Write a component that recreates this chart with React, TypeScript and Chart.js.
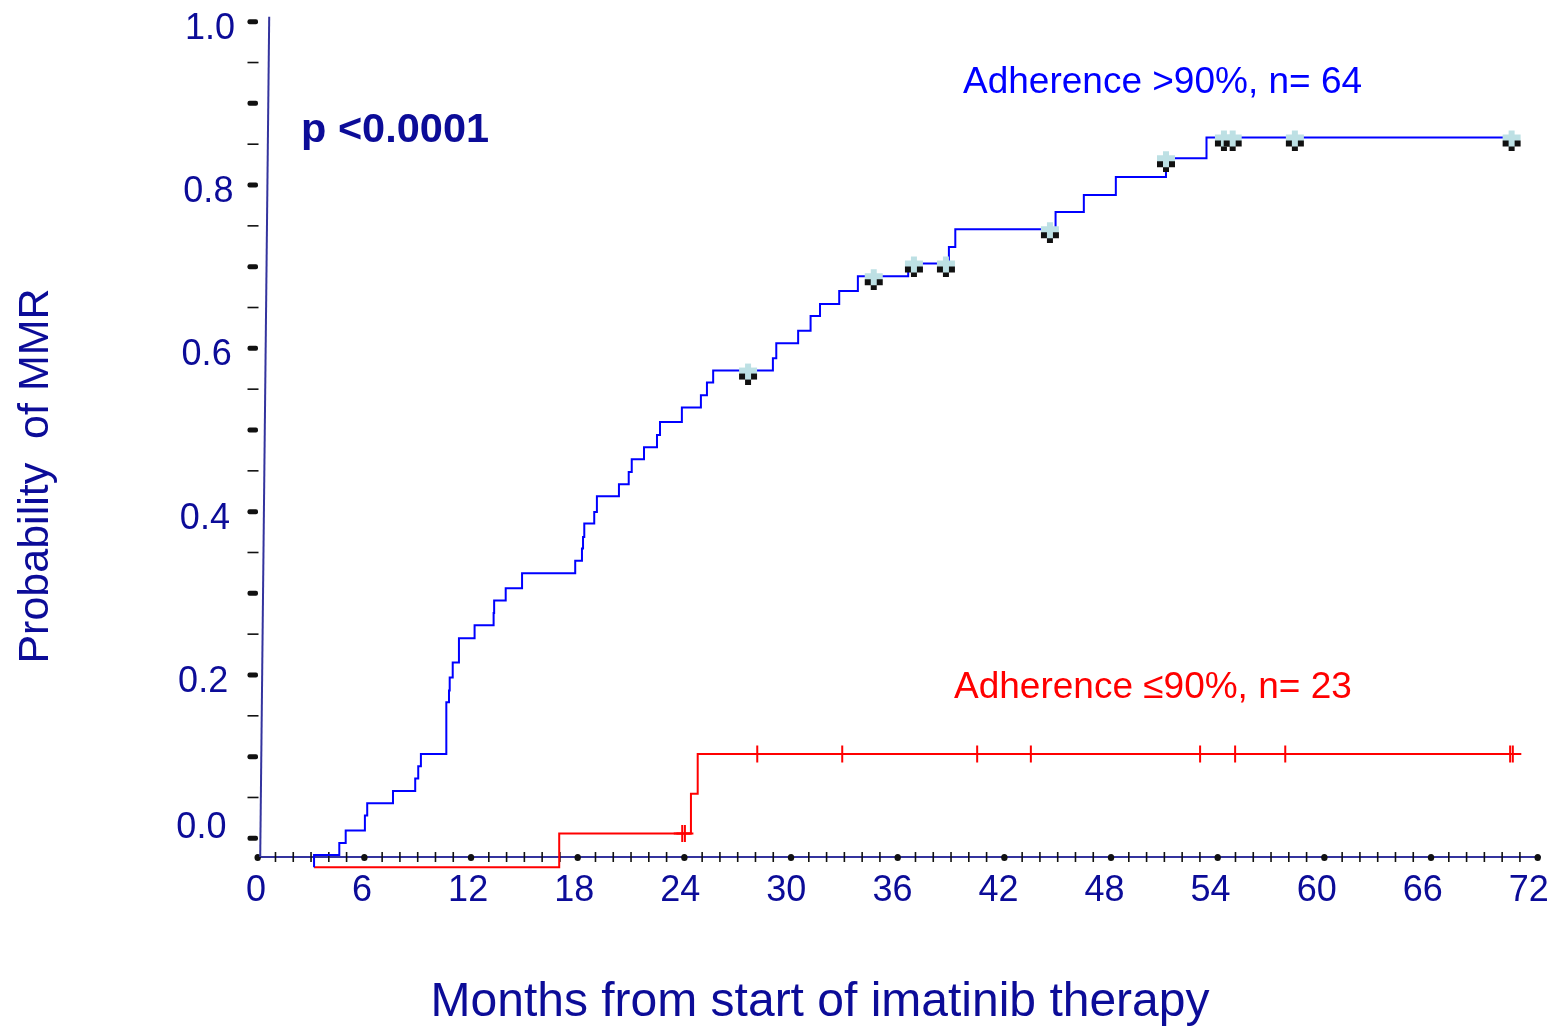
import React, { useEffect, useRef } from "react";
import { Chart, registerables } from "chart.js";

Chart.register(...registerables);

// ---------- data ----------
const xTickValues = [0, 6, 12, 18, 24, 30, 36, 42, 48, 54, 60, 66, 72];
const yTickValues = [0, 0.2, 0.4, 0.6, 0.8, 1.0];
const yTickLabels = ["0.0", "0.2", "0.4", "0.6", "0.8", "1.0"];

// Adherence >90% (blue) – Kaplan-Meier steps: time (months), probability after event
const blueTimes = [
  3.17, 3.17, 4.59, 4.95, 6.03, 6.16, 7.61, 8.86, 9.03, 9.18, 10.61, 10.76, 10.8, 10.97,
  11.32, 12.2, 13.27, 13.3, 13.95, 14.87, 17.86, 18.24, 18.3, 18.37, 18.93, 19.08, 20.32,
  20.87, 21.04, 21.73, 22.46, 22.63, 23.86, 24.93, 25.27, 25.62, 28.98, 29.17, 30.4, 31.1,
  31.63, 32.71, 33.76, 36.59, 38.88, 39.24, 44.88, 46.47, 48.27, 51.09, 53.37, 70.53,
];
const blueValues = [
  -0.0355, -0.0205, -0.0058, 0.0094, 0.0278, 0.0429, 0.0579, 0.0731, 0.0882, 0.1032, 0.1666,
  0.181, 0.197, 0.2152, 0.245, 0.2609, 0.276, 0.2911, 0.3062, 0.3246, 0.3399, 0.3548, 0.369,
  0.3854, 0.3996, 0.4189, 0.4336, 0.4486, 0.4642, 0.4789, 0.4939, 0.5099, 0.5275, 0.5426,
  0.5581, 0.5728, 0.5879, 0.6062, 0.6215, 0.6397, 0.6544, 0.6703, 0.6883, 0.7039, 0.7242,
  0.7459, 0.767, 0.7879, 0.8099, 0.8328, 0.8582, 0.8582,
];
const blueCensorTimes = [27.58, 34.65, 36.91, 38.71, 44.56, 51.09, 54.35, 54.84, 58.34, 70.53];
const blueCensorValues = [0.5728, 0.6883, 0.7039, 0.7039, 0.7459, 0.8328, 0.8582, 0.8582, 0.8582, 0.8582];

// Adherence <=90% (red)
const redTimes = [3.17, 16.96, 24.37, 24.75, 70.53];
const redValues = [-0.0355, 0.0058, 0.0547, 0.1032, 0.1032];
const redCensorTimes = [23.88, 24.03, 28.1, 32.88, 40.47, 43.49, 53.01, 54.98, 57.8, 70.45, 70.6];
const redCensorValues = [0.0058, 0.0058, 0.1032, 0.1032, 0.1032, 0.1032, 0.1032, 0.1032, 0.1032, 0.1032, 0.1032];

const blueLabel = "Adherence >90%, n= 64";
const redLabel = "Adherence \u226490%, n= 23";
const pValueText = "p <0.0001";
const yTitle = "Probability  of MMR";
const xTitle = "Months from start of imatinib therapy";

// ---------- styles ----------
const NAVY = "#0c0c98";
const AXIS = "#34349e";
const FONT = "'Liberation Sans', Arial, Helvetica, sans-serif";

function makeCensorMark(): HTMLCanvasElement {
  const c = document.createElement("canvas");
  c.width = 20;
  c.height = 28;
  const g = c.getContext("2d")!;
  const cx = 10;
  const cy = 14;
  g.fillStyle = "#111";
  g.fillRect(cx - 9, cy + 3, 6, 6);
  g.fillRect(cx + 3, cy + 3, 6, 6);
  g.fillRect(cx - 3, cy + 9, 6, 5);
  g.fillStyle = "#bde0e4";
  g.fillRect(cx - 3, cy - 7, 6, 16);
  g.fillRect(cx - 9, cy - 3, 18, 6);
  return c;
}

const decorPlugin = {
  id: "decor",
  beforeDatasetsDraw(chart: any) {
    const { ctx, scales, chartArea } = chart;
    const x = scales.x;
    const y = scales.y;
    const axisY = chartArea.bottom;
    ctx.save();
    // x axis line
    ctx.strokeStyle = AXIS;
    ctx.lineWidth = 2;
    ctx.beginPath();
    ctx.moveTo(x.getPixelForValue(0) - 1, axisY);
    ctx.lineTo(x.getPixelForValue(72) + 3, axisY);
    ctx.stroke();
    // x minor ticks (monthly) and 6-month dots
    ctx.strokeStyle = "#111";
    ctx.lineWidth = 1.6;
    for (let m = 1; m < 72; m++) {
      if (m % 6 === 0) continue;
      const px = x.getPixelForValue(m);
      ctx.beginPath();
      ctx.moveTo(px, axisY - 5);
      ctx.lineTo(px, axisY + 5);
      ctx.stroke();
    }
    ctx.fillStyle = "#111";
    for (const t of xTickValues) {
      const px = x.getPixelForValue(t);
      ctx.beginPath();
      ctx.ellipse(px, axisY + 0.5, 3.2, 3.6, 0, 0, Math.PI * 2);
      ctx.fill();
    }
    // y ticks: thick at 0.1, thin at 0.05
    for (let k = 0; k <= 20; k++) {
      const py = y.getPixelForValue(k * 0.05);
      if (k % 2 === 0) {
        ctx.beginPath();
        ctx.roundRect(247.5, py - 2.5, 10.5, 5, 2);
        ctx.fill();
      } else {
        ctx.fillRect(247.5, py - 0.8, 11, 1.6);
      }
    }
    // slanted vertical axis line
    const x0 = x.getPixelForValue(0);
    ctx.strokeStyle = AXIS;
    ctx.lineWidth = 2;
    ctx.beginPath();
    ctx.moveTo(x0 + 11.5, y.getPixelForValue(1) - 5);
    ctx.lineTo(x0 + 2.5, axisY);
    ctx.stroke();
    ctx.restore();
  },
  afterDraw(chart: any) {
    const { ctx, scales, chartArea } = chart;
    const x = scales.x;
    const y = scales.y;
    const axisY = chartArea.bottom;
    const x0 = x.getPixelForValue(0);
    const topY = y.getPixelForValue(1) - 5;
    const lineXAt = (py: number) => x0 + 2.5 + ((axisY - py) / (axisY - topY)) * 9;
    ctx.save();
    // x tick labels
    ctx.fillStyle = NAVY;
    ctx.font = `36px ${FONT}`;
    ctx.textAlign = "center";
    ctx.textBaseline = "alphabetic";
    for (const t of xTickValues) {
      const px = x.getPixelForValue(t) - t * 0.1 - 1.7;
      ctx.fillText(String(t), px, 901);
    }
    // y tick labels
    ctx.textAlign = "right";
    yTickValues.forEach((v, i) => {
      const py = y.getPixelForValue(v);
      const base = Math.min(py + 17, axisY - 19);
      ctx.fillText(yTickLabels[i], lineXAt(py) - 34, base);
    });
    // axis titles
    ctx.textAlign = "center";
    ctx.font = `48px ${FONT}`;
    ctx.fillText(xTitle, 820, 1016);
    ctx.save();
    ctx.translate(48, 476);
    ctx.rotate(-Math.PI / 2);
    ctx.font = `43px ${FONT}`;
    ctx.fillText(yTitle, 0, 0);
    ctx.restore();
    // annotations
    ctx.textAlign = "left";
    ctx.font = `bold 41.5px ${FONT}`;
    ctx.fillText(pValueText, 301, 142);
    ctx.font = `37px ${FONT}`;
    ctx.fillStyle = "#0000ff";
    ctx.fillText(blueLabel, 963, 93);
    ctx.fillStyle = "#ff0000";
    ctx.fillText(redLabel, 954, 698);
    ctx.restore();
  },
};

export default function App() {
  const ref = useRef<HTMLCanvasElement | null>(null);

  useEffect(() => {
    if (!ref.current) return;
    const censorImg = makeCensorMark();
    const pts = (xs: number[], ys: number[]) => xs.map((t, i) => ({ x: t, y: ys[i] }));
    const chart = new Chart(ref.current, {
      type: "line",
      data: {
        datasets: [
          {
            label: "blue censored",
            data: pts(blueCensorTimes, blueCensorValues),
            showLine: false,
            pointStyle: censorImg as any,
            pointRadius: 10,
            clip: false as any,
          },
          {
            label: "red censored",
            data: pts(redCensorTimes, redCensorValues),
            showLine: false,
            pointStyle: "cross",
            pointRadius: 8.5,
            pointBorderColor: "#ff0000",
            pointBorderWidth: 2,
            clip: false as any,
          },
          {
            label: blueLabel,
            data: pts(blueTimes, blueValues),
            stepped: "before",
            borderColor: "#0000ff",
            borderWidth: 2,
            pointRadius: 0,
            fill: false,
            clip: false as any,
          },
          {
            label: redLabel,
            data: pts(redTimes, redValues),
            stepped: "before",
            borderColor: "#ff0000",
            borderWidth: 2,
            pointRadius: 0,
            fill: false,
            clip: false as any,
          },
        ],
      },
      options: {
        animation: false,
        responsive: false,
        devicePixelRatio: 1,
        layout: { padding: { left: 257.7, right: 16.3, top: 21.7, bottom: 169 } },
        scales: {
          x: { type: "linear", min: 0, max: 72, display: false },
          y: { type: "linear", min: -0.0229, max: 1.0, display: false },
        },
        plugins: { legend: { display: false }, tooltip: { enabled: false } },
      },
      plugins: [decorPlugin],
    });
    return () => chart.destroy();
  }, []);

  return (
    <div style={{ position: "absolute", left: 0, top: 0, width: 1554, height: 1026, background: "#fff" }}>
      <canvas ref={ref} width={1554} height={1026} style={{ display: "block" }} />
    </div>
  );
}
